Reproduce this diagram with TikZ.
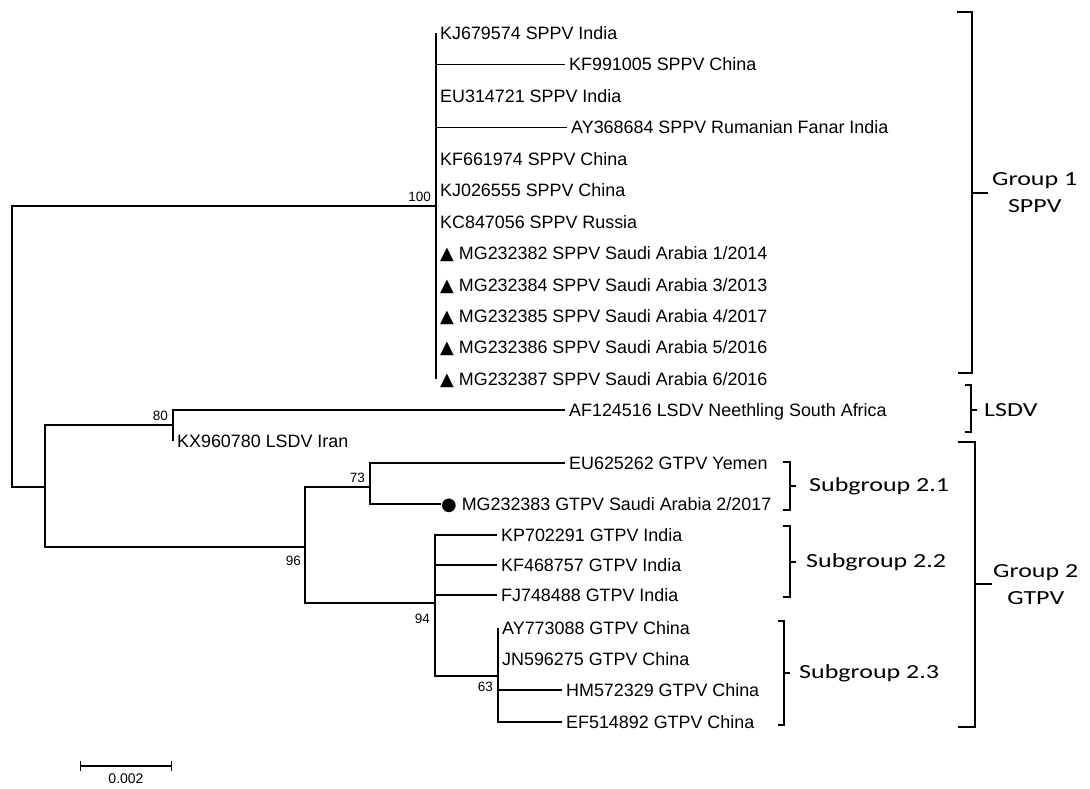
\documentclass[tikz,border=0pt]{standalone}
\usepackage{fontspec}
\setmainfont{Liberation Sans}
\newfontfamily\symfont{DejaVu Sans}
\newfontfamily\grpfont[FakeStretch=1.3]{Carlito}
\usetikzlibrary{arrows.meta}

\begin{document}
\begin{tikzpicture}[x=1pt, y=-1pt,
  branch/.style={line width=1.2pt},
  taxon/.style={anchor=west, inner xsep=4pt, inner ysep=0pt,
                text height=12.8pt, text depth=0pt,
                font=\fontsize{17.9}{20}\selectfont},
  boot/.style={inner sep=1pt, font=\fontsize{13.5}{15}\selectfont},
  brk/.style={line width=1.7pt},
  grp/.style={anchor=west, inner sep=0pt, font=\grpfont\fontsize{20}{27}\selectfont, align=center},
]
  \useasboundingbox (0,0) rectangle (1090,788);

  % internal nodes
  \coordinate (root)  at (12,346);
  \coordinate (sppv)  at (436,206);
  \coordinate (n1)    at (45,487);
  \coordinate (lsdv)  at (173,425);
  \coordinate (gtpv)  at (305,547);
  \coordinate (s21)   at (370,487);
  \coordinate (s2223) at (435,603);
  \coordinate (s23)   at (498,676);

  % SPPV taxa
  \node[taxon] (kj679574) at (436,33)    {KJ679574 SPPV India};
  \node[taxon] (kf991005) at (565,64.5)  {KF991005 SPPV China};
  \node[taxon] (eu314721) at (436,96)    {EU314721 SPPV India};
  \node[taxon] (ay368684) at (567,127.4) {AY368684 SPPV Rumanian Fanar India};
  \node[taxon] (kf661974) at (436,158.8) {KF661974 SPPV China};
  \node[taxon] (kj026555) at (436,190.3) {KJ026555 SPPV China};
  \node[taxon] (kc847056) at (436,221.7) {KC847056 SPPV Russia};
  \node[taxon] (mg232382) at (436,253.2) {{\symfont ▲} MG232382 SPPV Saudi Arabia 1/2014};
  \node[taxon] (mg232384) at (436,284.6) {{\symfont ▲} MG232384 SPPV Saudi Arabia 3/2013};
  \node[taxon] (mg232385) at (436,316)   {{\symfont ▲} MG232385 SPPV Saudi Arabia 4/2017};
  \node[taxon] (mg232386) at (436,347.5) {{\symfont ▲} MG232386 SPPV Saudi Arabia 5/2016};
  \node[taxon] (mg232387) at (436,379)   {{\symfont ▲} MG232387 SPPV Saudi Arabia 6/2016};

  % LSDV taxa
  \node[taxon] (af124516) at (565,410) {AF124516 LSDV Neethling South Africa};
  \node[taxon] (kx960780) at (173,441) {KX960780 LSDV Iran};

  % GTPV taxa
  \node[taxon] (eu625262) at (565,463) {EU625262 GTPV Yemen};
  \node[taxon] (mg232383) at (437,504) {{\symfont ●} MG232383 GTPV Saudi Arabia 2/2017};
  \node[taxon] (kp702291) at (497,535) {KP702291 GTPV India};
  \node[taxon] (kf468757) at (497,565) {KF468757 GTPV India};
  \node[taxon] (fj748488) at (497,595) {FJ748488 GTPV India};
  \node[taxon] (ay773088) at (498,628) {AY773088 GTPV China};
  \node[taxon] (jn596275) at (498,659) {JN596275 GTPV China};
  \node[taxon] (hm572329) at (562,690) {HM572329 GTPV China};
  \node[taxon] (ef514892) at (562,722) {EF514892 GTPV China};

  % branches
  \draw[branch] (root) |- (sppv);
  \draw[branch] (root) |- (n1);
  \foreach \t in {kj679574,kf991005,eu314721,ay368684,kf661974,kj026555,
                  kc847056,mg232382,mg232384,mg232385,mg232386,mg232387}
    \draw[branch] (sppv) |- (\t.west);
  \draw[branch] (n1) |- (lsdv);
  \draw[branch] (n1) |- (gtpv);
  \draw[branch] (lsdv) |- (af124516.west);
  \draw[branch] (lsdv) |- (kx960780.west);
  \draw[branch] (gtpv) |- (s21);
  \draw[branch] (gtpv) |- (s2223);
  \draw[branch] (s21) |- (eu625262.west);
  \draw[branch] (s21) |- ([xshift=4pt]mg232383.west);
  \draw[branch] (s2223) |- (kp702291.west);
  \draw[branch] (s2223) |- (kf468757.west);
  \draw[branch] (s2223) |- (fj748488.west);
  \draw[branch] (s2223) |- (s23);
  \foreach \t in {ay773088,jn596275,hm572329,ef514892}
    \draw[branch] (s23) |- (\t.west);

  % bootstrap values
  \node[boot, anchor=south east] (bs100) at ([xshift=-4pt,yshift=3pt]sppv)  {100};
  \node[boot, anchor=south east] (bs80)  at ([xshift=-4pt,yshift=3pt]lsdv)  {80};
  \node[boot, anchor=south east] (bs73)  at ([xshift=-4pt,yshift=3pt]s21)   {73};
  \node[boot, anchor=north east] (bs96)  at ([xshift=-3pt,yshift=-8pt]gtpv) {96};
  \node[boot, anchor=north east] (bs94)  at ([xshift=-4pt,yshift=-10pt]s2223) {94};
  \node[boot, anchor=north east] (bs63)  at ([xshift=-4pt,yshift=-5pt]s23)  {63};

  % group brackets
  \draw[brk] (957,12) -- (972,12) -- (972,373) -- (958,373);
  \draw[brk] (972,193) -- (988,193);
  \node[grp] (grp1) at (992,193) {Group 1\\SPPV};

  \draw[brk] (965,385) -- (971,385) -- (971,432) -- (965,432);
  \draw[brk] (971,410) -- (977,410);
  \node[grp] (grplsdv) at (984,410) {LSDV};

  \draw[brk] (958,442) -- (975,442) -- (975,727) -- (958,727);
  \draw[brk] (975,584) -- (992,584);
  \node[grp] (grp2) at (993,585) {Group 2\\GTPV};

  \draw[brk] (783,462) -- (790,462) -- (790,510) -- (783,510);
  \draw[brk] (790,486) -- (796,486);
  \node[grp] (sub21) at (809,486) {Subgroup 2.1};

  \draw[brk] (783,526) -- (790,526) -- (790,597) -- (783,597);
  \draw[brk] (790,562) -- (796,562);
  \node[grp] (sub22) at (806,562) {Subgroup 2.2};

  \draw[brk] (778,621) -- (784,621) -- (784,725) -- (778,725);
  \draw[brk] (784,673) -- (790,673);
  \node[grp] (sub23) at (799,673) {Subgroup 2.3};

  % scale bar
  \coordinate (sbl) at (80,766);
  \coordinate (sbr) at (172,766);
  \draw[line width=1.2pt, {Bar[width=10pt]}-{Bar[width=10pt]}] (sbl) -- (sbr);
  \node[boot, anchor=north, font=\fontsize{14}{16}\selectfont] (sblab) at (126,773) {0.002};
\end{tikzpicture}
\end{document}
